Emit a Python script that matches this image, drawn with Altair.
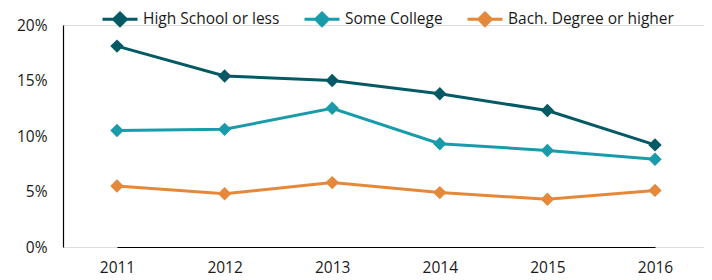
import altair as alt
import pandas as pd

years = ["2011", "2012", "2013", "2014", "2015", "2016"]
series_names = ["High School or less", "Some College", "Bach. Degree or higher"]
high_school = [18.1, 15.4, 15.0, 13.8, 12.3, 9.2]
some_college = [10.5, 10.6, 12.5, 9.3, 8.7, 7.9]
bach_degree = [5.5, 4.8, 5.8, 4.9, 4.3, 5.1]
colors = ["#045a64", "#1a9baa", "#e5883a"]
y_ticks = [0, 0.05, 0.10, 0.15, 0.20]

rows = []
for name, vals in zip(series_names, [high_school, some_college, bach_degree]):
    for yr, v in zip(years, vals):
        rows.append({"year": yr, "series": name, "value": v / 100})
df = pd.DataFrame(rows)

FONT = "Open Sans"

x_enc = alt.X("year:O", scale=alt.Scale(type="point", padding=0, range=[54, 592]), title=None,
              axis=alt.Axis(labelAngle=0, ticks=False, domainColor="#000000", domainWidth=1.2,
                            labelFontSize=15.5, labelColor="#1a1a1a", labelPadding=13, labelFont=FONT))
y_enc = alt.Y("value:Q", scale=alt.Scale(domain=[0, 0.20], nice=False), title=None,
              axis=alt.Axis(format=".0%", values=y_ticks, ticks=False, grid=False, domainColor="#000000",
                            domainWidth=1.2, labelFontSize=15.5, labelColor="#1a1a1a", labelPadding=16,
                            labelFont=FONT))
color_enc = alt.Color("series:N", scale=alt.Scale(domain=series_names, range=colors),
                      sort=series_names,
                      legend=alt.Legend(title=None, orient="none", direction="horizontal",
                                        legendX=38, legendY=-25, padding=0,
                                        symbolType="M-1,0H1M0,-0.36L0.36,0L0,0.36L-0.36,0Z",
                                        symbolSize=1225, symbolStrokeWidth=3,
                                        labelFontSize=15.5, labelFont=FONT, labelColor="#1a1a1a",
                                        labelLimit=400, labelOffset=4, columnPadding=18))

lines = alt.Chart(df).mark_line(strokeWidth=3).encode(x=x_enc, y=y_enc, color=color_enc)
points = alt.Chart(df).mark_point(shape="diamond", filled=True, size=180, opacity=1).encode(
    x=x_enc, y=y_enc, color=alt.Color("series:N", scale=alt.Scale(domain=series_names, range=colors), legend=None))

chart = alt.layer(lines, points).properties(
    width=641, height=222,
    autosize=alt.AutoSizeParams(type="none"),
    padding={"left": 55, "top": 17, "right": 0, "bottom": 32},
).configure_view(stroke=None).configure(font=FONT)

chart.save("out.html", embed_options={"renderer": "svg", "actions": False})
